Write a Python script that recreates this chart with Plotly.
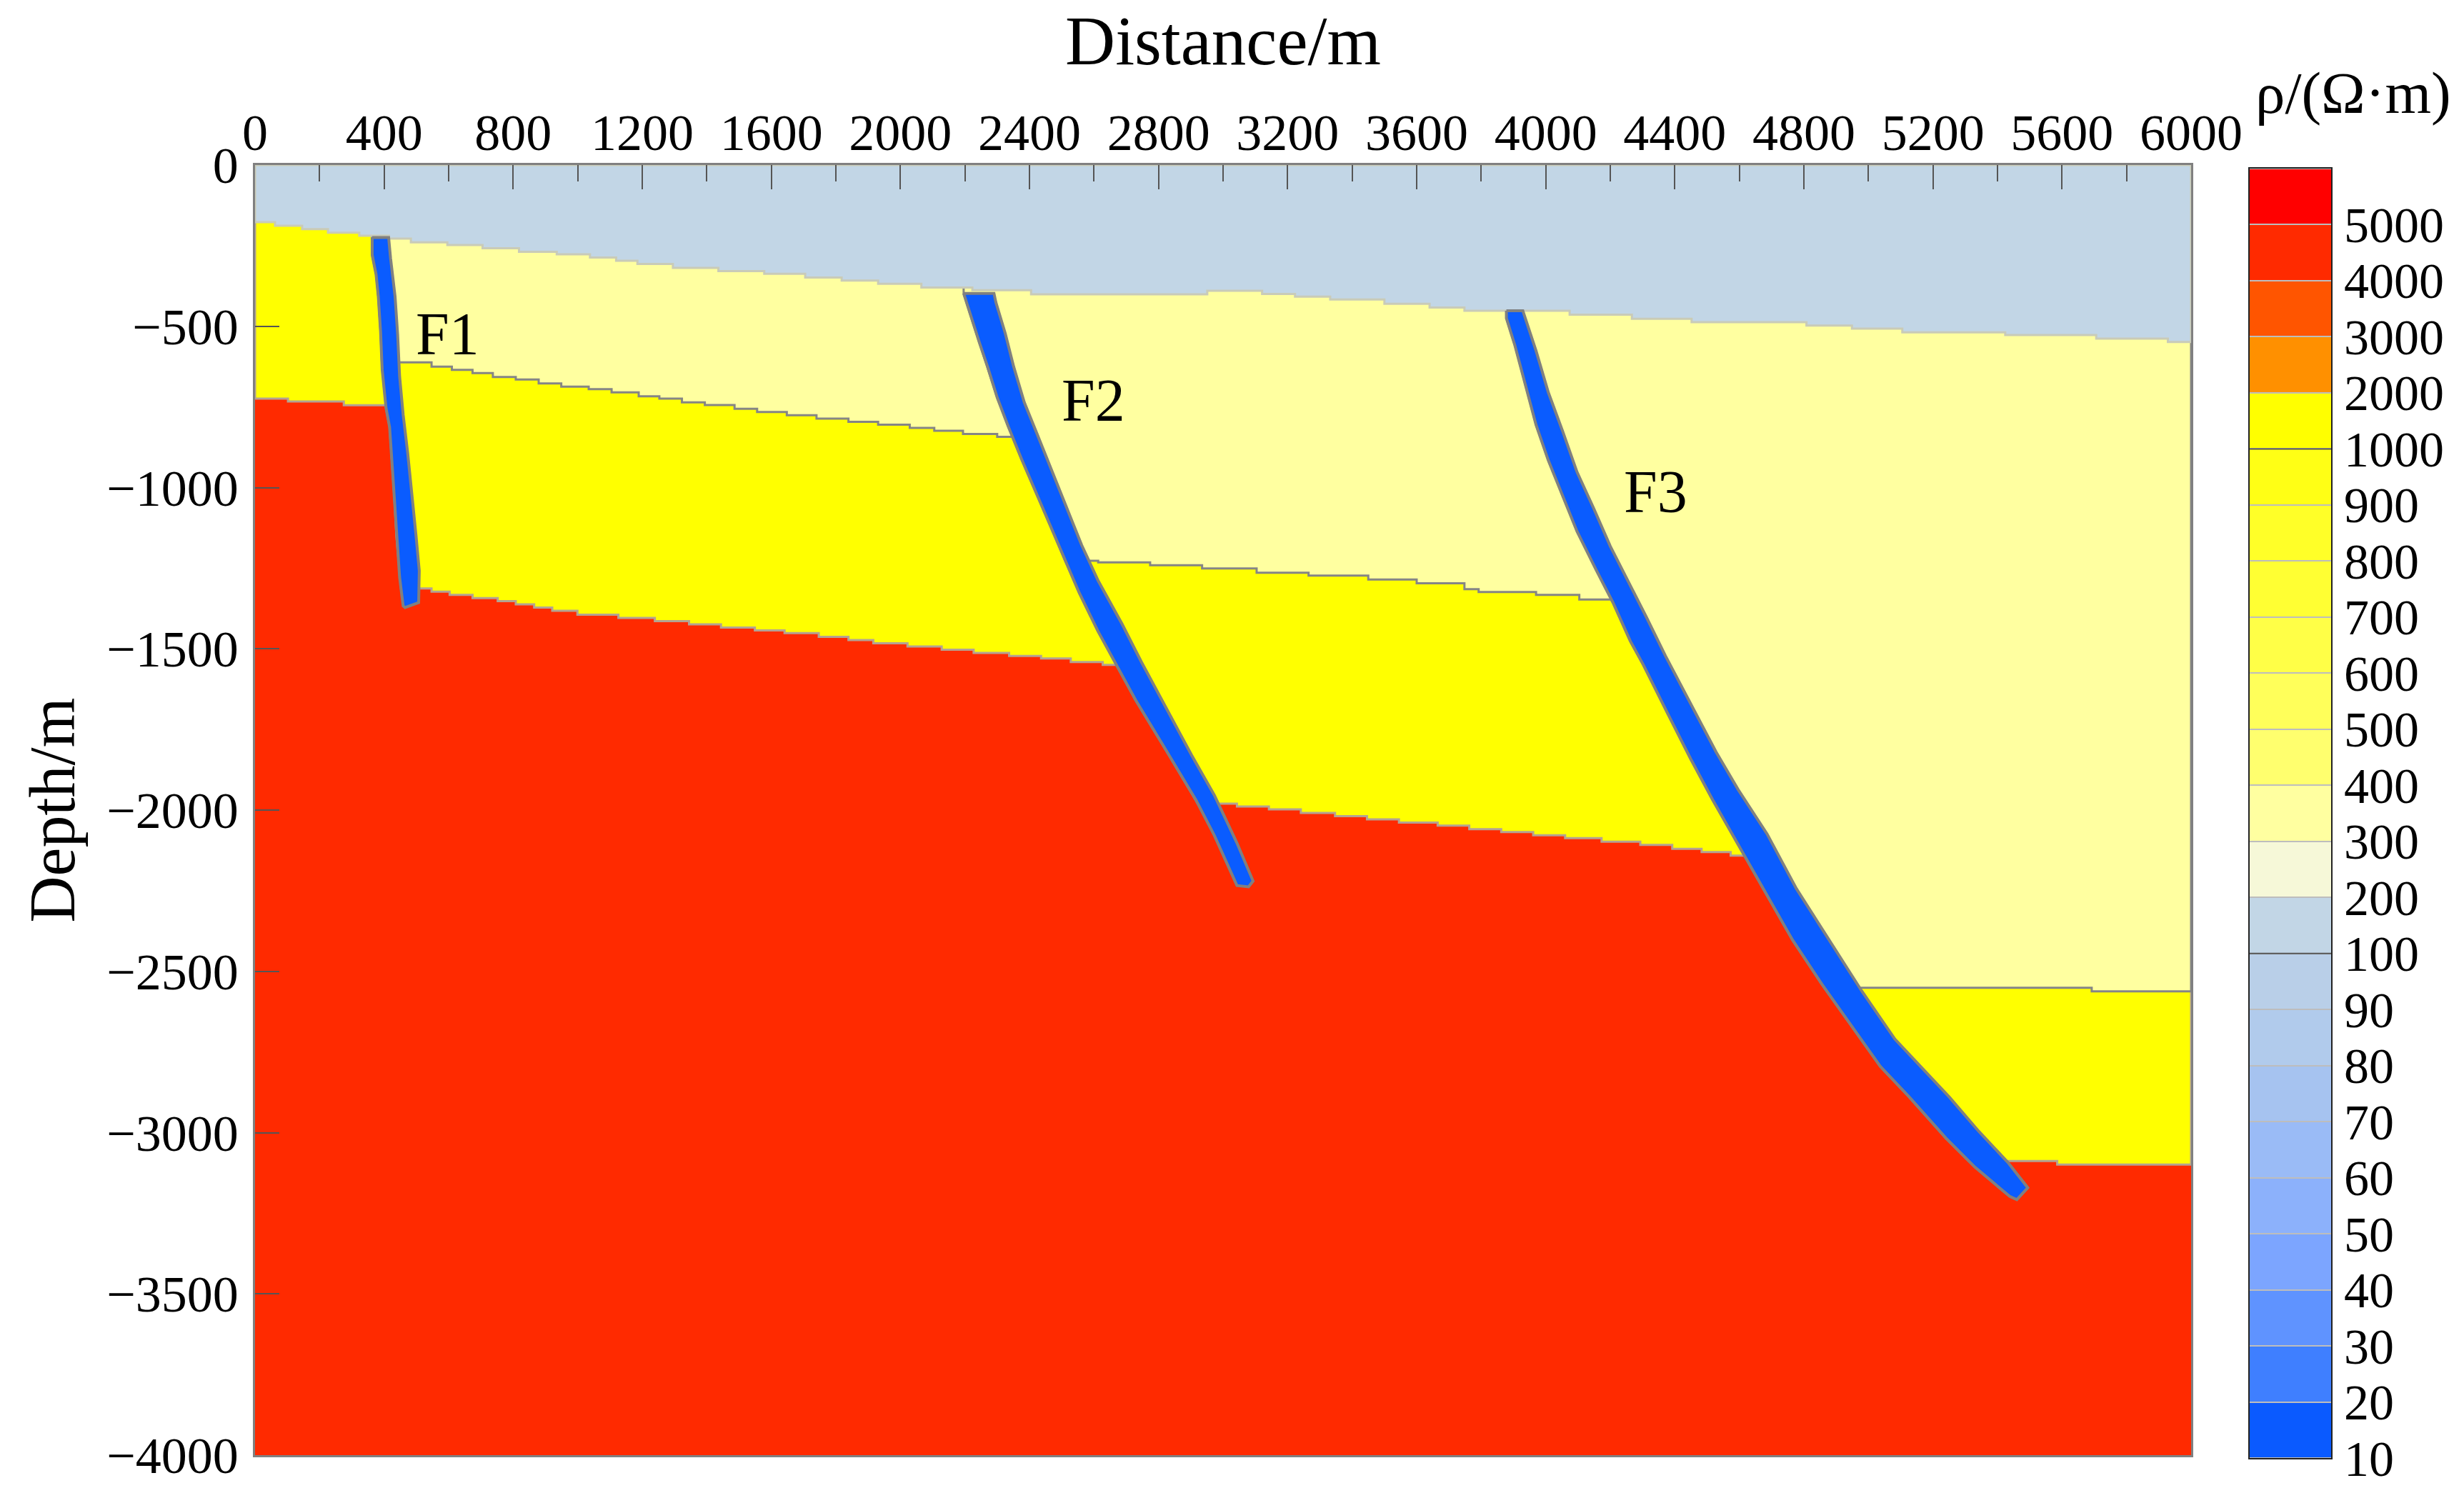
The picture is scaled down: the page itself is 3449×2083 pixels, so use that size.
import numpy as np
import plotly.graph_objects as go

W, H = 3449, 2083

# ---- legend classes (top to bottom) ----
class_labels = ["5000", "4000", "3000", "2000", "1000", "900", "800", "700", "600", "500", "400", "300",
                "200", "100", "90", "80", "70", "60", "50", "40", "30", "20", "10"]
class_colors = ["#FF0000", "#FF2A00", "#FF5500", "#FF9000", "#FFFF00", "#FFFF15", "#FFFF28", "#FFFF33",
                "#FFFF47", "#FFFF5A", "#FFFF6E", "#FFFFA0", "#F6F8D8", "#C2D6E6", "#B9CFE8", "#B1CBEC",
                "#A6C3F0", "#9ABBF6", "#8CB1FB", "#7CA5FF", "#5F93FF", "#3F7FFF", "#0A5AFF"]
RED, YELLOW, PALE, WATER, BLUE = "#FF2A00", "#FFFF00", "#FFFFA0", "#C2D6E6", "#0A5CFF"

# ---- layer boundaries: depth holds from each x until the next x ----
surface_x = [0, 62, 146, 226, 323, 415, 483, 596, 705, 818, 935, 1038, 1119, 1185, 1295, 1436, 1578, 1705, 1818,
             1931, 2065, 2223, 2405, 2951, 3121, 3223, 3332, 3500, 3640, 3748, 4074, 4267, 4452, 4808, 4949,
             5105, 5424, 5706, 5928, 6000]
surface_y = [-177, -188, -199, -210, -219, -228, -240, -248, -258, -269, -277, -287, -297, -307, -319, -329,
             -337, -349, -358, -368, -380, -388, -401, -390, -400, -408, -417, -430, -442, -452, -464, -477,
             -487, -498, -507, -519, -527, -538, -549, -549]

a_red_x = [0, 102, 275, 450]
a_red_y = [-724, -733, -745, -745]

b_pale_x = [448, 547, 610, 674, 737, 808, 879, 949, 1034, 1105, 1189, 1253, 1323, 1394, 1486, 1556, 1648, 1740,
            1839, 1931, 2029, 2105, 2194, 2300, 2360]
b_pale_y = [-612, -625, -635, -645, -657, -665, -677, -687, -695, -705, -717, -724, -736, -744, -756, -766, -776,
            -786, -796, -805, -815, -824, -834, -843, -843]
b_red_x = [512, 547, 603, 674, 752, 808, 865, 921, 999, 1126, 1239, 1345, 1444, 1549, 1641, 1747, 1839, 1916,
           2022, 2128, 2227, 2337, 2436, 2528, 2627, 2680]
b_red_y = [-1313, -1323, -1333, -1343, -1352, -1362, -1372, -1382, -1394, -1404, -1414, -1424, -1434, -1443,
           -1451, -1463, -1473, -1483, -1493, -1503, -1513, -1522, -1530, -1541, -1550, -1550]

c_pale_x = [2579, 2613, 2774, 2935, 3104, 3265, 3450, 3600, 3748, 3792, 3970, 4104, 4200]
c_pale_y = [-1227, -1232, -1241, -1251, -1264, -1273, -1285, -1297, -1315, -1324, -1333, -1347, -1347]
c_red_x = [2987, 3043, 3142, 3241, 3347, 3446, 3545, 3665, 3763, 3862, 3961, 4060, 4173, 4293, 4392, 4483, 4573, 4618]
c_red_y = [-1980, -1989, -1998, -2009, -2019, -2029, -2039, -2048, -2059, -2068, -2078, -2087, -2098, -2108,
           -2120, -2130, -2141, -2141]

d_pale_x = [4980, 5692, 6000]
d_pale_y = [-2551, -2562, -2562]
d_red_x = [5438, 5585, 6000]
d_red_y = [-3088, -3099, -3099]

# ---- fault edges ----
f1_left_x = [363, 363, 375, 382, 389, 394, 406, 417, 423, 431, 438, 448, 459, 465]
f1_left_y = [-225, -279, -339, -408, -517, -635, -754, -813, -902, -1021, -1150, -1278, -1367, -1372]
f1_right_x = [414, 420, 434, 442, 448, 459, 473, 488, 499, 509, 507]
f1_right_y = [-225, -289, -408, -527, -655, -774, -892, -1031, -1150, -1258, -1357]

f2_left_x = [2196, 2215, 2245, 2270, 2300, 2334, 2376, 2427, 2469, 2512, 2554, 2612, 2662, 2729, 2823, 2916, 2973, 3043]
f2_left_y = [-398, -459, -551, -625, -721, -810, -913, -1031, -1127, -1230, -1326, -1445, -1537, -1659, -1814,
             -1969, -2079, -2234]
f2_right_x = [2290, 2296, 2325, 2351, 2384, 2423, 2469, 2512, 2562, 2613, 2687, 2747, 2803, 2902, 2973, 3043, 3093, 3079]
f2_right_y = [-398, -426, -522, -625, -736, -832, -943, -1053, -1179, -1289, -1423, -1541, -1644, -1829, -1954,
              -2102, -2220, -2238]

f3_left_x = [3878, 3878, 3904, 3933, 3970, 4008, 4052, 4097, 4156, 4208, 4262, 4302, 4379, 4449, 4517, 4607, 4686,
             4765, 4856, 4946, 5037, 5127, 5240, 5330, 5438, 5460]
f3_left_y = [-452, -475, -558, -668, -806, -916, -1026, -1136, -1255, -1356, -1476, -1549, -1703, -1841, -1968,
             -2127, -2265, -2403, -2540, -2668, -2795, -2890, -3017, -3107, -3198, -3208]
f3_right_x = [3929, 3938, 3970, 4008, 4052, 4097, 4148, 4200, 4252, 4312, 4371, 4466, 4528, 4596, 4686, 4777, 4878,
              4980, 5082, 5161, 5251, 5342, 5432, 5494]
f3_right_y = [-452, -484, -576, -705, -824, -952, -1063, -1182, -1283, -1402, -1522, -1703, -1820, -1936, -2074,
              -2244, -2403, -2562, -2710, -2795, -2890, -2996, -3092, -3171]

fault_names = ["F1", "F2", "F3"]
fault_label_x = [596, 2598, 4341]
fault_label_y = [-523, -730, -1013]

x_ticks = list(range(0, 6001, 400))
y_ticks = list(range(0, -4001, -500))


def stairs(xs, ys):
    px, py = [xs[0]], [ys[0]]
    for i in range(1, len(xs)):
        px += [xs[i], xs[i]]
        py += [ys[i - 1], ys[i]]
    return px, py


def limit_at(edge_x, edge_y, depth):
    return float(np.interp(-depth, -np.array(edge_y), edge_x))


def limit_path(edge_x, edge_y, deep):
    """Points along a fault edge from the top of the model down to depth `deep`."""
    px, py = [edge_x[0]], [0]
    for x, y in zip(edge_x, edge_y):
        if y > deep:
            px.append(x)
            py.append(y)
    px.append(limit_at(edge_x, edge_y, deep))
    py.append(deep)
    return px, py


def block(bx, by, left, right):
    """Region above a stepped boundary, between two fault edges (None = side of the model)."""
    sx, sy = stairs(bx, by)
    if left is None:
        lx, ly = [0, 0], [0, by[0]]
    else:
        lx, ly = limit_path(left[0], left[1], by[0])
    if right is None:
        rx, ry = [6000, 6000], [by[-1], 0]
    else:
        rx, ry = limit_path(right[0], right[1], by[-1])
        rx, ry = rx[::-1], ry[::-1]
    return lx + sx + rx + [lx[0]], ly + sy + ry + [ly[0]]


def poly(xy, fill, line, width=3, name=None):
    return go.Scatter(x=xy[0], y=xy[1], mode="lines", fill="toself", fillcolor=fill,
                      line=dict(color=line, width=width), hoverinfo="skip", showlegend=False, name=name)


F1L, F1R = (f1_left_x, f1_left_y), (f1_right_x, f1_right_y)
F2L, F2R = (f2_left_x, f2_left_y), (f2_right_x, f2_right_y)
F3L, F3R = (f3_left_x, f3_left_y), (f3_right_x, f3_right_y)

RED_LINE, PALE_LINE, WATER_LINE, FAULT_LINE = "#B4A392", "#858585", "#C9CBB8", "#808080"

fig = go.Figure()
fig.add_trace(poly(([0, 6000, 6000, 0, 0], [0, 0, -4000, -4000, 0]), RED, RED, 1, "red"))
# yellow blocks
fig.add_trace(poly(block(a_red_x, a_red_y, None, F1R), YELLOW, RED_LINE))
fig.add_trace(poly(block(b_red_x, b_red_y, F1L, F2R), YELLOW, RED_LINE))
fig.add_trace(poly(block(c_red_x, c_red_y, F2L, F3R), YELLOW, RED_LINE))
fig.add_trace(poly(block(d_red_x, d_red_y, F3L, None), YELLOW, RED_LINE))
# pale blocks
fig.add_trace(poly(block(b_pale_x, b_pale_y, F1L, F2R), PALE, PALE_LINE))
fig.add_trace(poly(block(c_pale_x, c_pale_y, F2L, F3R), PALE, PALE_LINE))
fig.add_trace(poly(block(d_pale_x, d_pale_y, F3L, None), PALE, PALE_LINE))
# top layer
sx, sy = stairs(surface_x, surface_y)
fig.add_trace(poly(([0] + sx + [6000, 0], [0] + sy + [0, 0]), WATER, WATER_LINE))
# faults
for L, R in ((F1L, F1R), (F2L, F2R), (F3L, F3R)):
    fx = list(L[0]) + list(R[0])[::-1] + [L[0][0]]
    fy = list(L[1]) + list(R[1])[::-1] + [L[1][0]]
    fig.add_trace(poly((fx, fy), BLUE, FAULT_LINE, 4))

# colour legend as a one-column heatmap
n = len(class_labels)
stops = [[i / (n - 1), c] for i, c in enumerate(class_colors)]
fig.add_trace(go.Heatmap(x=[0], y=[n - 1 - i + 0.5 for i in range(n)], z=[[i] for i in range(n)],
                         zmin=0, zmax=n - 1, colorscale=stops, showscale=False, ygap=2, hoverinfo="skip",
                         xaxis="x2", yaxis="y2"))

TF = dict(family="Liberation Serif", size=72, color="#000000")
fig.update_layout(
    width=W, height=H, margin=dict(l=0, r=0, t=0, b=0, autoexpand=False),
    paper_bgcolor="#FFFFFF", plot_bgcolor="#BDBDBD", showlegend=False,
    xaxis=dict(domain=[357 / W, 3067 / W], range=[0, 6000], side="top", tickmode="array", tickvals=x_ticks,
               ticks="inside", ticklen=34, tickwidth=2, tickcolor="#555555", tickfont=TF, ticklabelstandoff=-11,
               minor=dict(dtick=200, ticks="inside", ticklen=23, tickwidth=2, tickcolor="#555555", showgrid=False),
               showgrid=False, zeroline=False, showline=True, mirror=True, linecolor="#808080", linewidth=2.5,
               automargin=False,
               title=dict(text="Distance/m", font=dict(family="Liberation Serif", size=97, color="#000000"), standoff=24)),
    yaxis=dict(domain=[1 - 2037 / H, 1 - 231 / H], range=[-4000, 0], tickmode="array", tickvals=y_ticks,
               ticks="inside", ticklen=34, tickwidth=2, tickcolor="#555555", tickfont=TF, ticklabelstandoff=6,
               showgrid=False, zeroline=False, showline=True, mirror=True, linecolor="#808080", linewidth=2.5,
               automargin=False,
               title=dict(text="Depth/m", font=dict(family="Liberation Serif", size=90, color="#000000"), standoff=15)),
    xaxis2=dict(domain=[3149 / W, 3263 / W], anchor="y2", visible=True, showticklabels=False, ticks="",
                showgrid=False, zeroline=False, showline=True, mirror=True, linecolor="#222222", linewidth=2,
                automargin=False),
    yaxis2=dict(domain=[1 - 2041 / H, 1 - 236 / H], anchor="x2", side="right", range=[0, n], tickmode="array",
                tickvals=[n - 1 - i for i in range(n)], ticktext=class_labels, ticks="",
                tickfont=dict(family="Liberation Serif", size=70, color="#000000"), ticklabelstandoff=2,
                showgrid=False, zeroline=False, showline=True, mirror=True, linecolor="#222222", linewidth=2,
                automargin=False),
)
for label in ("1000", "100"):
    v = n - 1 - class_labels.index(label)
    fig.add_shape(type="line", xref="x2 domain", yref="y2", x0=0, x1=1, y0=v, y1=v,
                  line=dict(color="#555555", width=2))

for name, x, y in zip(fault_names, fault_label_x, fault_label_y):
    fig.add_annotation(x=x, y=y, text=name, showarrow=False,
                       font=dict(family="Liberation Serif", size=84, color="#000000"))
fig.add_annotation(xref="paper", yref="paper", x=3294 / W, y=1 - 130 / H, xanchor="center", yanchor="middle",
                   text="ρ/(Ω·m)", showarrow=False,
                   font=dict(family="Liberation Serif", size=83, color="#000000"))

fig.write_html("out.html", config=dict(displayModeBar=False),
               post_script="document.body.style.margin='0';document.body.style.overflow='hidden';")
